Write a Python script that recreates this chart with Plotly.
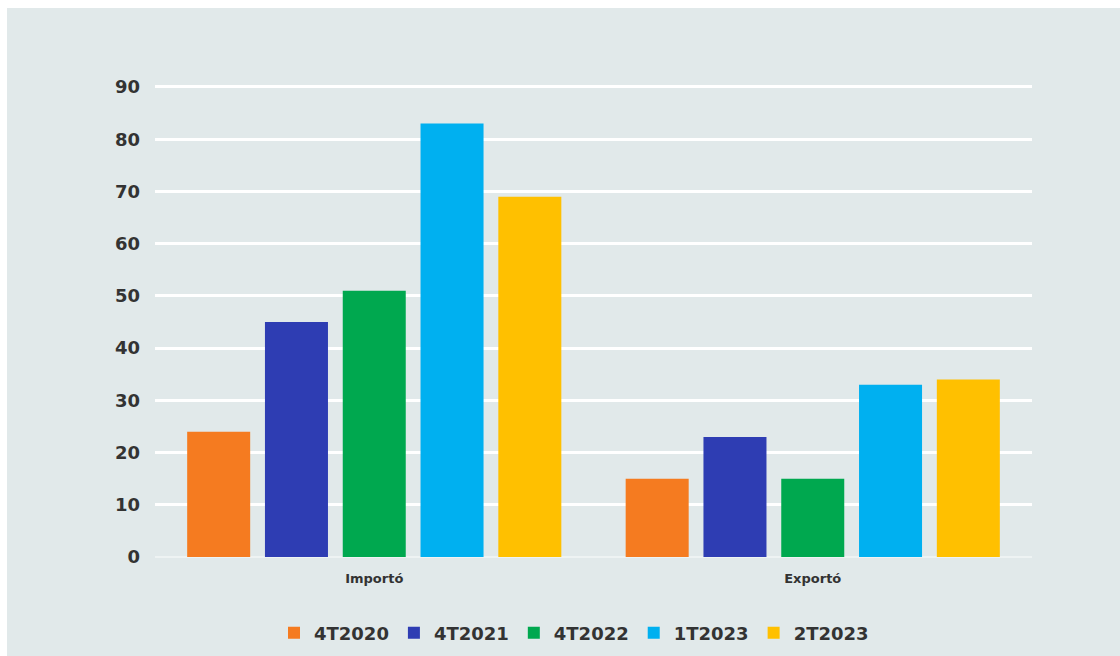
import plotly.graph_objects as go

categories = ["Importó", "Exportó"]
series_names = ["4T2020", "4T2021", "4T2022", "1T2023", "2T2023"]
values_4t2020 = [24, 15]
values_4t2021 = [45, 23]
values_4t2022 = [51, 15]
values_1t2023 = [83, 33]
values_2t2023 = [69, 34]
y_ticks = [0, 10, 20, 30, 40, 50, 60, 70, 80, 90]

series_values = [values_4t2020, values_4t2021, values_4t2022, values_1t2023, values_2t2023]
colors = ["#f57b20", "#2e3db3", "#00a84f", "#00b0f0", "#ffc000"]

W, H = 1120, 656
ml, mr, mt, mb = 155, 88, 84, 99
pw, ph = W - ml - mr, H - mt - mb
bg = "#e1e9ea"

fig = go.Figure()
for name, vals, col in zip(series_names, series_values, colors):
    fig.add_trace(go.Bar(x=categories, y=vals, name=name, marker=dict(color=col, line=dict(width=0))))

# light background panel with thin white border at top/left
fig.add_shape(type="rect", xref="paper", yref="paper",
              x0=(7 - ml) / pw, x1=(W - ml) / pw,
              y0=-(mb) / ph, y1=(H - 8 - mb) / ph,
              fillcolor=bg, line=dict(width=0), layer="below")

fig.update_layout(
    width=W, height=H,
    margin=dict(l=ml, r=mr, t=mt, b=mb, autoexpand=False),
    paper_bgcolor="white",
    plot_bgcolor="rgba(0,0,0,0)",
    barmode="group",
    bargap=0.113,
    bargroupgap=0.19,
    font=dict(family="DejaVu Sans", color="#333333"),
    showlegend=True,
    legend=dict(orientation="h", x=574 / W, xanchor="center", xref="container",
                y=1 - 633 / H, yanchor="middle", yref="container",
                font=dict(size=18, color="#333333", weight="bold"), itemwidth=30,
                bgcolor="rgba(0,0,0,0)"),
    xaxis=dict(showgrid=False, tickfont=dict(size=13, color="#333333", weight="bold"), ticks="",
               showline=False, ticklabelstandoff=12),
    yaxis=dict(range=[0, 90.57], tickvals=y_ticks, showgrid=True, gridcolor="white", gridwidth=3,
               zeroline=True, zerolinecolor="#eef3f3", zerolinewidth=2,
               tickfont=dict(size=18, color="#333333", weight="bold"),
               ticklabelstandoff=14, showline=False),
)

fig.write_html("out.html")
